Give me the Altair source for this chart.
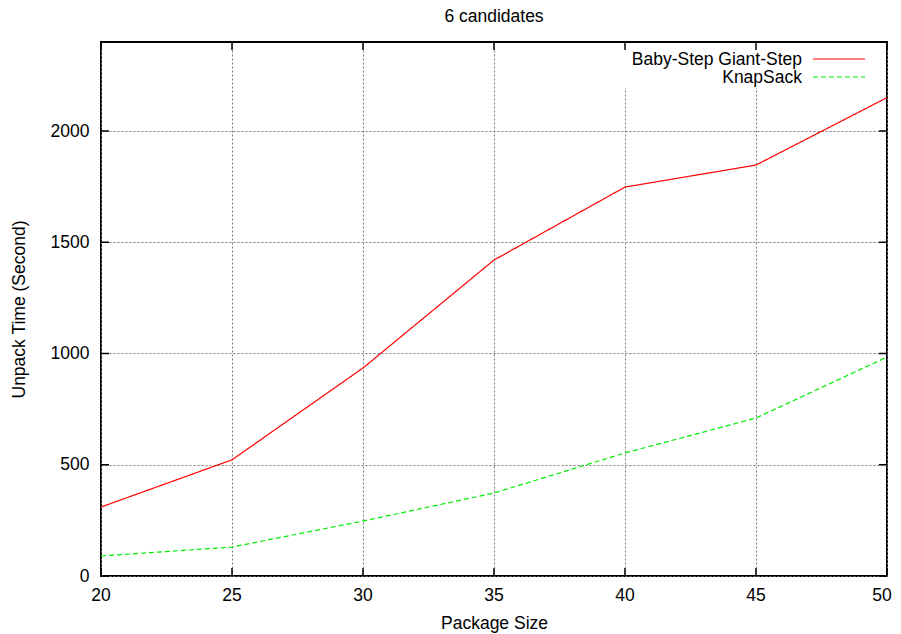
import altair as alt
import pandas as pd

package_size = [20, 25, 30, 35, 40, 45, 50]
series_names = ["Baby-Step Giant-Step", "KnapSack"]
bsgs_time = [310, 522, 935, 1420, 1748, 1847, 2150]
knapsack_time = [90, 130, 247, 373, 553, 710, 984]
x_ticks = [20, 25, 30, 35, 40, 45, 50]
y_ticks = [0, 500, 1000, 1500, 2000]
chart_title = "6 candidates"
colors = ["#ff0000", "#00ee00"]
dashes = [[1, 0], [5, 3]]

W, H = 786, 534
FONT = "Liberation Sans"
FS = 17.5

rows = []
for name, vals in zip(series_names, [bsgs_time, knapsack_time]):
    for x, v in zip(package_size, vals):
        rows.append({"size": x, "series": name, "time": v})
df = pd.DataFrame(rows)

xscale = alt.Scale(domain=[20, 50], nice=False, zero=False)
yscale = alt.Scale(domain=[0, 2400], nice=False)

base = alt.Chart(df)

grid = base.mark_point(opacity=0).encode(
    x=alt.X("size:Q", scale=xscale,
            axis=alt.Axis(values=x_ticks, title="Package Size", grid=True, labels=False,
                          gridDash=[2, 2], gridColor="#777777", gridWidth=1,
                          ticks=False, domain=False,
                          titleY=52, titleBaseline="alphabetic", titleX=W / 2)),
    y=alt.Y("time:Q", scale=yscale,
            axis=alt.Axis(values=y_ticks, title="Unpack Time (Second)", grid=True, format="d",
                          gridDash=[2, 2], gridColor="#777777", gridWidth=1,
                          ticks=False, domain=False, labelPadding=12, labelFlush=False,
                          titleX=-77, titleY=H / 2, titleBaseline="alphabetic")),
)

dummy = pd.DataFrame({"a": [0]})

key_bg = alt.Chart(dummy).mark_rect(color="white").encode(
    x=alt.value(515), x2=alt.value(W - 1), y=alt.value(1), y2=alt.value(46)
)

xt = pd.DataFrame({"size": x_ticks})
yt = pd.DataFrame({"time": y_ticks})
tick_layers = [
    alt.Chart(xt).mark_rule(color="black", strokeWidth=1.5).encode(
        x=alt.X("size:Q", scale=xscale), y=alt.value(H), y2=alt.value(H - 8)),
    alt.Chart(xt).mark_rule(color="black", strokeWidth=1.5).encode(
        x=alt.X("size:Q", scale=xscale), y=alt.value(0), y2=alt.value(8)),
    alt.Chart(yt).mark_rule(color="black", strokeWidth=1.5).encode(
        y=alt.Y("time:Q", scale=yscale), x=alt.value(0), x2=alt.value(8)),
    alt.Chart(yt).mark_rule(color="black", strokeWidth=1.5).encode(
        y=alt.Y("time:Q", scale=yscale), x=alt.value(W), x2=alt.value(W - 8)),
]

xlab_main = pd.DataFrame({"size": x_ticks[:-1]})
xlab_last = pd.DataFrame({"size": x_ticks[-1:]})
xlabel_layers = [
    alt.Chart(xlab_main).mark_text(font=FONT, fontSize=FS, color="black",
                                   align="center", baseline="alphabetic").encode(
        x=alt.X("size:Q", scale=xscale), y=alt.value(H + 25), text=alt.Text("size:Q", format="d")),
    alt.Chart(xlab_last).mark_text(font=FONT, fontSize=FS, color="black",
                                   align="center", baseline="alphabetic", dx=-5).encode(
        x=alt.X("size:Q", scale=xscale), y=alt.value(H + 25), text=alt.Text("size:Q", format="d")),
]

lines = base.mark_line(strokeWidth=1.2).encode(
    x=alt.X("size:Q", scale=xscale),
    y=alt.Y("time:Q", scale=yscale),
    color=alt.Color("series:N", scale=alt.Scale(domain=series_names, range=colors), legend=None),
    strokeDash=alt.StrokeDash("series:N", scale=alt.Scale(domain=series_names, range=dashes), legend=None),
)

legend_layers = []
for i, name in enumerate(series_names):
    legend_layers.append(
        alt.Chart(dummy).mark_text(text=name, align="right", baseline="alphabetic",
                                   font=FONT, fontSize=FS, color="black").encode(
            x=alt.value(701), y=alt.value(23 + 18 * i))
    )
    legend_layers.append(
        alt.Chart(dummy).mark_rule(color=colors[i], strokeDash=dashes[i], strokeWidth=1.2).encode(
            x=alt.value(712), x2=alt.value(764), y=alt.value(17 + 18 * i), y2=alt.value(17 + 18 * i))
    )

title_layer = alt.Chart(dummy).mark_text(
    text=chart_title, align="center", baseline="alphabetic",
    font=FONT, fontSize=FS, color="black").encode(
    x=alt.value(W / 2), y=alt.value(-20))

chart = alt.layer(grid, key_bg, *tick_layers, *xlabel_layers, lines, *legend_layers, title_layer).properties(
    width=W, height=H,
    autosize=alt.AutoSizeParams(type="none"),
    padding={"left": 93, "top": 34, "right": 6, "bottom": 58},
).configure_view(stroke="black", strokeWidth=2).configure_axis(
    labelFont=FONT, labelFontSize=FS, labelColor="black",
    titleFont=FONT, titleFontSize=FS, titleFontWeight="normal", titleColor="black",
)

chart.save("out.html", embed_options={"renderer": "svg", "actions": False})
